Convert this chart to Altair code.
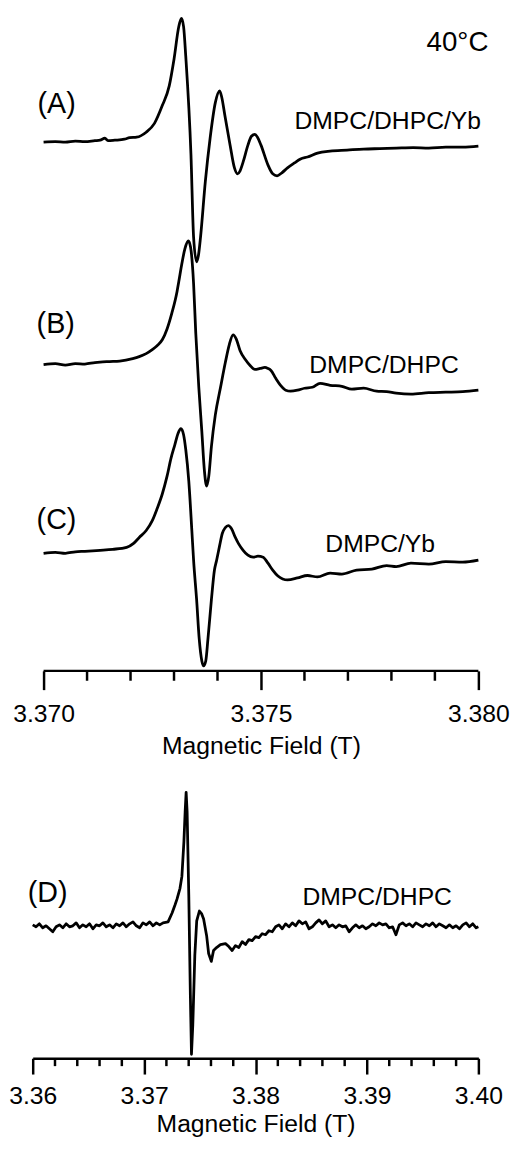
import altair as alt
import pandas as pd

# ---------------- data ----------------
# Upper sweep (A, B, C): magnetic field (T) and first-derivative signal (a.u.),
# each signal relative to its own trace baseline.
field_A = [3.37000, 3.37027, 3.37050, 3.37073, 3.37095, 3.37118, 3.37130, 3.37141, 3.37148, 3.37164,
           3.37186, 3.37198, 3.37214, 3.37236, 3.37255, 3.37273, 3.37289, 3.37300, 3.37311, 3.37317,
           3.37322, 3.37327, 3.37339, 3.37345, 3.37352, 3.37356, 3.37361, 3.37372, 3.37383, 3.37395,
           3.37405, 3.37410, 3.37417, 3.37429, 3.37439, 3.37446, 3.37452, 3.37459, 3.37470, 3.37478,
           3.37486, 3.37492, 3.37500, 3.37516, 3.37527, 3.37537, 3.37548, 3.37561, 3.37577, 3.37591,
           3.37607, 3.37630, 3.37659, 3.37698, 3.37736, 3.37773, 3.37811, 3.37850, 3.37886, 3.37925,
           3.37964, 3.38000]
signal_A = [0, 0.5, 0, 1, 0.5, 1.5, 2, 4, 1.5, 2,
            3, 4.5, 5, 10, 19, 37, 57, 84, 117, 125.3,
            117, 87, -13, -96, -121, -115, -96, -40, 4, 40,
            52, 45, 27, -3, -26, -32, -29, -20, -3, 6,
            8, 5, -3, -23, -32, -34, -31, -26, -21, -17,
            -15, -11, -9, -8, -7, -6.5, -6, -5.5, -6, -5,
            -5, -4]

field_B = [3.37000, 3.37027, 3.37050, 3.37073, 3.37095, 3.37118, 3.37130, 3.37152, 3.37175, 3.37205,
           3.37220, 3.37236, 3.37250, 3.37261, 3.37273, 3.37284, 3.37295, 3.37307, 3.37311, 3.37318,
           3.37325, 3.37333, 3.37338, 3.37345, 3.37350, 3.37357, 3.37364, 3.37370, 3.37375, 3.37380,
           3.37386, 3.37395, 3.37407, 3.37418, 3.37427, 3.37436, 3.37443, 3.37452, 3.37464, 3.37475,
           3.37486, 3.37498, 3.37509, 3.37516, 3.37523, 3.37534, 3.37545, 3.37557, 3.37568, 3.37584,
           3.37600, 3.37618, 3.37636, 3.37659, 3.37686, 3.37709, 3.37736, 3.37766, 3.37789, 3.37811,
           3.37845, 3.37886, 3.37925, 3.37964, 3.38000]
signal_B = [0, 1, -0.5, 1, 0.5, 2, 2.5, 3, 3.5, 6,
            8, 11, 15, 19, 25, 36, 52, 74, 84, 102,
            117, 125, 119, 82, 32, -23, -68, -108, -123, -113,
            -83, -51, -23, 2, 20, 30, 26, 14, 5, -1,
            -5, -4, -3, -4, -6, -14, -21, -26, -27, -26,
            -24, -23, -19, -21, -22, -25, -24, -27, -27.5, -29,
            -30, -28.5, -28, -27.5, -26]

field_C = [3.37000, 3.37027, 3.37050, 3.37073, 3.37095, 3.37130, 3.37159, 3.37191, 3.37207, 3.37220,
           3.37236, 3.37250, 3.37261, 3.37273, 3.37284, 3.37293, 3.37302, 3.37309, 3.37316, 3.37322,
           3.37327, 3.37334, 3.37341, 3.37345, 3.37352, 3.37358, 3.37364, 3.37368, 3.37373, 3.37378,
           3.37386, 3.37393, 3.37398, 3.37405, 3.37411, 3.37418, 3.37425, 3.37432, 3.37441, 3.37448,
           3.37459, 3.37470, 3.37482, 3.37493, 3.37505, 3.37516, 3.37527, 3.37539, 3.37550, 3.37561,
           3.37584, 3.37607, 3.37630, 3.37659, 3.37686, 3.37720, 3.37755, 3.37789, 3.37811, 3.37845,
           3.37886, 3.37925, 3.37964, 3.38000]
signal_C = [0, 1, 0, 1.5, 2, 3, 4, 6, 10, 16,
            23, 33, 45, 60, 78, 96, 110, 121, 126, 120,
            105, 73, 23, -7, -47, -87, -109, -114, -109, -87,
            -47, -17, -7, 8, 20, 26, 28, 25, 16, 10,
            3, -2, -4, -3, -4, -10, -17, -23, -26, -27,
            -25, -22.5, -24, -20, -21, -17, -16, -12.5, -13.5, -10,
            -11, -8.5, -9, -7]

trace_names_top = ["A", "B", "C"]
trace_offsets_top = [927, 702, 511]

# Lower sweep (D): wide field range (noisy baseline read point by point)
field_D = [3.36000, 3.36030, 3.36060, 3.36090, 3.36120, 3.36150, 3.36180, 3.36210, 3.36240, 3.36270,
           3.36300, 3.36330, 3.36360, 3.36390, 3.36420, 3.36450, 3.36480, 3.36510, 3.36540, 3.36570,
           3.36600, 3.36630, 3.36660, 3.36690, 3.36720, 3.36750, 3.36780, 3.36810, 3.36840, 3.36870,
           3.36900, 3.36930, 3.36960, 3.36990, 3.37020, 3.37050, 3.37080, 3.37110, 3.37140, 3.37170,
           3.37215, 3.37251, 3.37277, 3.37295, 3.37322, 3.37339, 3.37357, 3.37368, 3.37377, 3.37386,
           3.37401, 3.37415, 3.37425, 3.37437, 3.37455, 3.37472, 3.37496, 3.37517, 3.37534, 3.37561,
           3.37579, 3.37603, 3.37623, 3.37650, 3.37685,
           3.37730, 3.37760, 3.37790, 3.37820, 3.37850, 3.37880, 3.37910, 3.37940, 3.37970, 3.38000,
           3.38030, 3.38060, 3.38090, 3.38120, 3.38150, 3.38180, 3.38210, 3.38240, 3.38270, 3.38300,
           3.38330, 3.38360, 3.38390, 3.38420, 3.38450, 3.38480, 3.38510, 3.38540, 3.38570, 3.38600,
           3.38630, 3.38660, 3.38690, 3.38720, 3.38750, 3.38780, 3.38810, 3.38840, 3.38870, 3.38900,
           3.38930, 3.38960, 3.38990, 3.39020, 3.39050, 3.39080, 3.39110, 3.39140, 3.39170, 3.39200,
           3.39230, 3.39260, 3.39290, 3.39320, 3.39350, 3.39380, 3.39410, 3.39440, 3.39470, 3.39500,
           3.39530, 3.39560, 3.39590, 3.39620, 3.39650, 3.39680, 3.39710, 3.39740, 3.39770, 3.39800,
           3.39830, 3.39860, 3.39890, 3.39920, 3.39950, 3.39980, 3.40000]
signal_D = [1, -1, 2, -2, 0, -3, -6, -1, 1, -2,
            2, -1, 0, 3, -2, 1, -1, 2, -3, 1,
            0, 3, -1, 1, -2, 2, 0, 3, -1, 2,
            4, 0, -2, 3, 1, 4, 0, 3, 1, 3,
            4, 13, 21, 27, 38, 50, 85, 115, 135, 115,
            30, -70, -130, -100, -30, 5, 15, 12, 7, -10,
            -28, -36, -25, -22, -19,
            -18, -21, -25, -20, -22, -16, -19, -14, -15, -11,
            -12, -8, -9, -5, -6, -1, 1, -3, 2, -1,
            3, 0, 5, 2, 4, -3, -1, 3, 6, 2,
            5, -1, 1, -2, 1, -1, 0, -6, -2, 1,
            -2, 0, -3, -1, 2, 0, 3, 1, 2, -2,
            -1, -9, 1, 3, 0, 2, -1, 3, 1, -1,
            2, 0, 3, -1, 2, 0, -2, 1, -2, 0,
            -3, 1, 3, -1, 2, -2, -1]
offset_D = 134

# Annotations (field, intensity in the same units as the traces)
top_panel_labels = ["(A)", "(B)", "(C)"]
top_panel_label_x = [3.36986, 3.36984, 3.36984]
top_panel_label_y = [966, 742.5, 545]
top_series_labels = ["DMPC/DHPC/Yb", "DMPC/DHPC", "DMPC/Yb"]
top_series_label_x = [3.37577, 3.37611, 3.37648]
top_series_label_y = [948.5, 701.5, 520]
temp_label = "40°C"
temp_label_x = 3.38023
temp_label_y = 1027

bottom_panel_label = "(D)"
bottom_panel_label_x = 3.35956
bottom_panel_label_y = 167.5
bottom_series_label = "DMPC/DHPC"
bottom_series_label_x = 3.38421
bottom_series_label_y = 163.5

top_axis_range = [3.370, 3.380]
top_major_ticks = [3.370, 3.375, 3.380]
top_minor_ticks = [3.371, 3.372, 3.373, 3.374, 3.376, 3.377, 3.378, 3.379]
bottom_major_ticks = [3.36, 3.37, 3.38, 3.39, 3.40]
bottom_minor_ticks = [3.362, 3.364, 3.366, 3.368, 3.372, 3.374, 3.376, 3.378,
                      3.382, 3.384, 3.386, 3.388, 3.392, 3.394, 3.396, 3.398]

# ---------------- tables ----------------
rows = []
for name, off, fs, ss in zip(trace_names_top, trace_offsets_top,
                             [field_A, field_B, field_C], [signal_A, signal_B, signal_C]):
    for f, s in zip(fs, ss):
        rows.append({"trace": name, "field": f, "intensity": off + s})
top_df = pd.DataFrame(rows)
bot_df = pd.DataFrame({"trace": "D", "field": field_D,
                       "intensity": [offset_D + s for s in signal_D]})

FONT = "Liberation Sans"
W, H = 451, 1056          # one plot area holding both sweeps
TOP_AXIS_Y = 664          # pixel row of the upper sweep's axis inside the plot
LW = 2.8

y_scale = alt.Scale(domain=[0, H], nice=False, zero=False)

def Y():
    return alt.Y("intensity:Q", scale=y_scale, axis=None)

# ---------------- upper sweep ----------------
x_top_scale = alt.Scale(domain=[3.36975, 3.380], nice=False, zero=False)
x_top_axis = alt.Axis(orient="bottom", offset=TOP_AXIS_Y - H, values=top_major_ticks,
                      format=".3f", title="Magnetic Field (T)", titleX=231,
                      domain=False, tickSize=19, labelPadding=12, titlePadding=8,
                      labelFlush=False, labelOverlap=False, grid=False)

def XT():
    return alt.X("field:Q", scale=x_top_scale, axis=x_top_axis)

top_lines = alt.Chart(top_df).mark_line(
    color="black", strokeWidth=LW, interpolate="monotone", strokeJoin="round"
).encode(x=XT(), y=Y(), detail="trace:N")

top_panel_text = alt.Chart(pd.DataFrame({
    "label": top_panel_labels, "field": top_panel_label_x, "intensity": top_panel_label_y
})).mark_text(align="left", baseline="middle", fontSize=29, font=FONT, color="black").encode(
    x=XT(), y=Y(), text="label:N")

top_series_text = alt.Chart(pd.DataFrame({
    "label": top_series_labels, "field": top_series_label_x, "intensity": top_series_label_y
})).mark_text(align="left", baseline="middle", fontSize=25, font=FONT, color="black").encode(
    x=XT(), y=Y(), text="label:N")

top_temp_text = alt.Chart(pd.DataFrame({
    "label": [temp_label], "field": [temp_label_x], "intensity": [temp_label_y]
})).mark_text(align="right", baseline="middle", fontSize=28, font=FONT, color="black").encode(
    x=XT(), y=Y(), text="label:N")

top_domain = alt.Chart(pd.DataFrame({"field": [top_axis_range[0]], "field_end": [top_axis_range[1]]})
).mark_rule(color="black", strokeWidth=2.5).encode(
    x=XT(), x2="field_end:Q", y=alt.value(TOP_AXIS_Y))

top_minor = alt.Chart(pd.DataFrame({"field": top_minor_ticks})).mark_rule(
    color="black", strokeWidth=2.5
).encode(x=XT(), y=alt.value(TOP_AXIS_Y), y2=alt.value(TOP_AXIS_Y + 10))

top_layer = alt.layer(top_lines, top_panel_text, top_series_text, top_temp_text,
                      top_domain, top_minor)

# ---------------- lower sweep ----------------
x_bot_scale = alt.Scale(domain=[3.36, 3.40], nice=False, zero=False)
x_bot_axis = alt.Axis(orient="bottom", values=bottom_major_ticks, format=".2f",
                      title="Magnetic Field (T)", tickSize=16, labelPadding=10, titlePadding=3,
                      labelFlush=False, labelOverlap=False, grid=False)

def XB():
    return alt.X("field:Q", scale=x_bot_scale, axis=x_bot_axis)

bot_line = alt.Chart(bot_df).mark_line(
    color="black", strokeWidth=LW, interpolate="linear", strokeJoin="round"
).encode(x=XB(), y=Y())

bot_text = alt.Chart(pd.DataFrame({
    "label": [bottom_panel_label], "field": [bottom_panel_label_x], "intensity": [bottom_panel_label_y]
})).mark_text(align="left", baseline="middle", fontSize=29, font=FONT, color="black").encode(
    x=XB(), y=Y(), text="label:N")

bot_series = alt.Chart(pd.DataFrame({
    "label": [bottom_series_label], "field": [bottom_series_label_x], "intensity": [bottom_series_label_y]
})).mark_text(align="left", baseline="middle", fontSize=25, font=FONT, color="black").encode(
    x=XB(), y=Y(), text="label:N")

bot_minor = alt.Chart(pd.DataFrame({"field": bottom_minor_ticks})).mark_rule(
    color="black", strokeWidth=2.5
).encode(x=XB(), y=alt.value(H), y2=alt.value(H + 8))

bot_layer = alt.layer(bot_line, bot_text, bot_series, bot_minor)

chart = alt.layer(top_layer, bot_layer).resolve_scale(x="independent").properties(
    width=W, height=H,
    padding={"left": 0, "top": 0, "right": 0, "bottom": 0}
).configure(font=FONT).configure_view(stroke=None).configure_axis(
    labelFont=FONT, labelFontSize=25, labelColor="black",
    titleFont=FONT, titleFontSize=25, titleFontWeight="normal", titleColor="black",
    domainColor="black", domainWidth=2.5, tickColor="black", tickWidth=2.5
)

chart.save("out.html", embed_options={"renderer": "svg", "actions": False})
